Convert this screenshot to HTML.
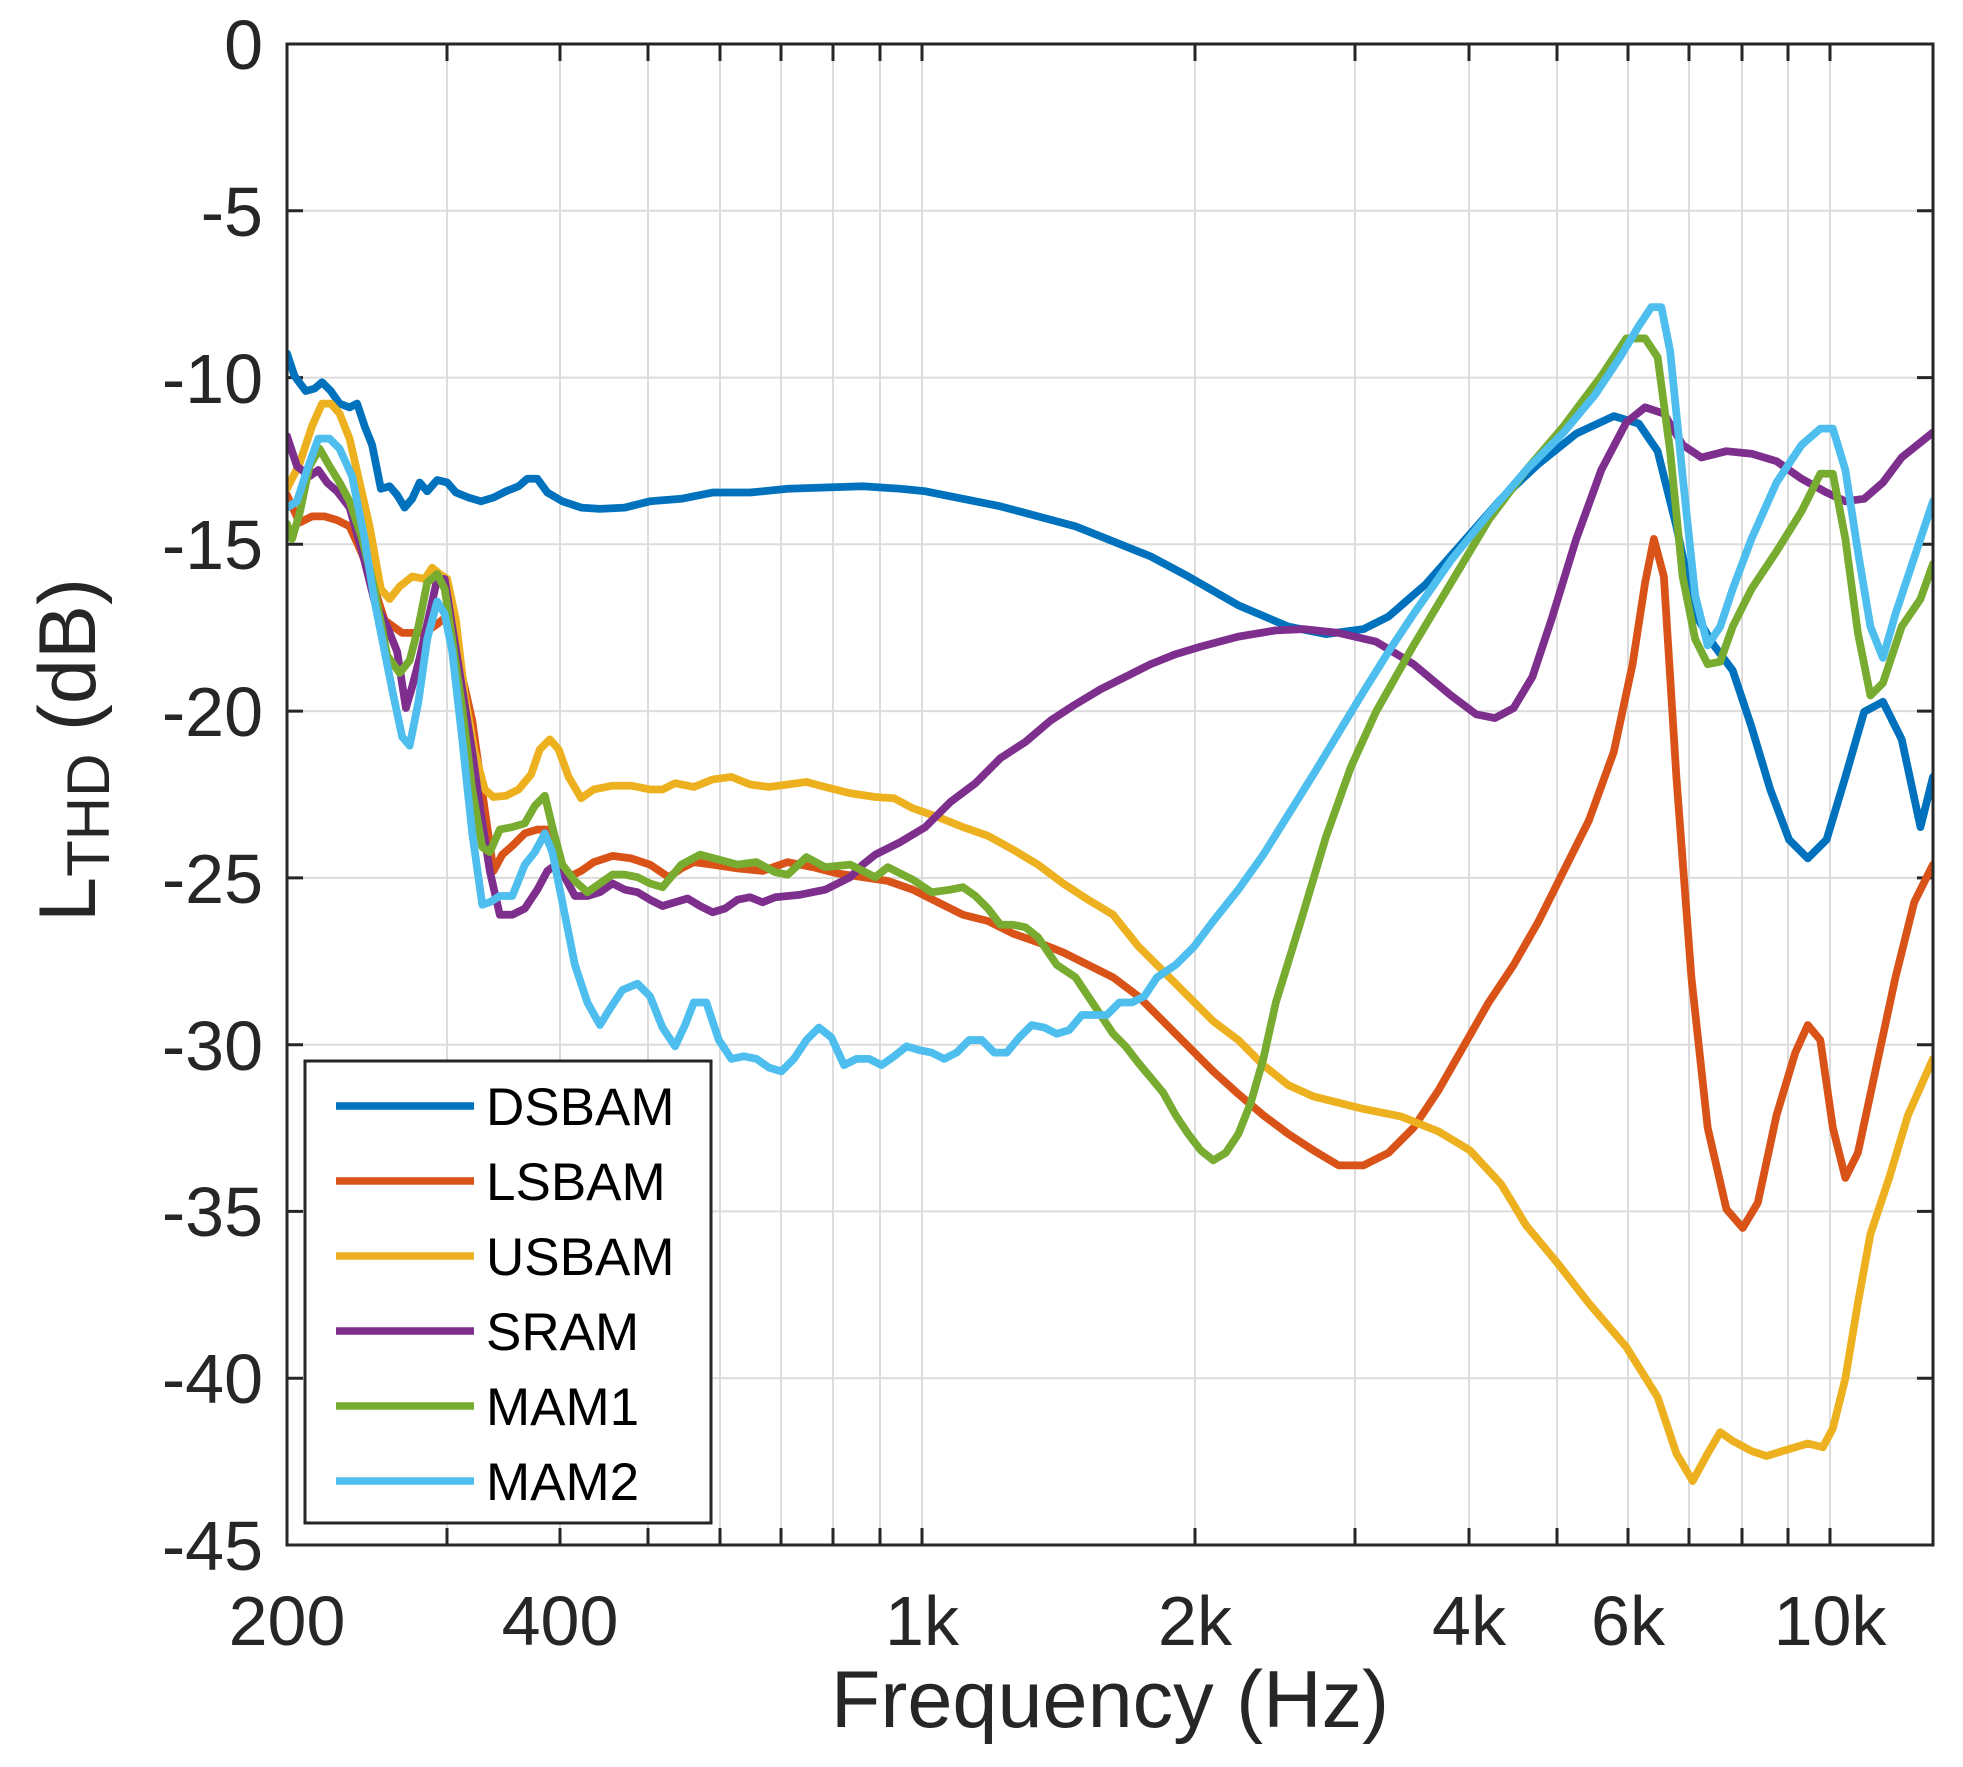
<!DOCTYPE html>
<html><head><meta charset="utf-8"><style>
html,body{margin:0;padding:0;background:#fff;}
svg{display:block;font-family:"Liberation Sans",Arial,sans-serif;}
</style></head><body>
<svg width="1963" height="1767" viewBox="0 0 1963 1767" xmlns="http://www.w3.org/2000/svg">
<rect width="1963" height="1767" fill="#fff"/>
<defs><clipPath id="c"><rect x="287" y="44" width="1646" height="1501"/></clipPath></defs>
<g stroke="#dcdcdc" stroke-width="2">
<line x1="287" x2="1933" y1="210.8" y2="210.8"/><line x1="287" x2="1933" y1="377.6" y2="377.6"/>
<line x1="287" x2="1933" y1="544.3" y2="544.3"/><line x1="287" x2="1933" y1="711.1" y2="711.1"/>
<line x1="287" x2="1933" y1="877.9" y2="877.9"/><line x1="287" x2="1933" y1="1044.7" y2="1044.7"/>
<line x1="287" x2="1933" y1="1211.4" y2="1211.4"/><line x1="287" x2="1933" y1="1378.2" y2="1378.2"/>
<line x1="447" x2="447" y1="44" y2="1545"/><line x1="560" x2="560" y1="44" y2="1545"/>
<line x1="648" x2="648" y1="44" y2="1545"/><line x1="720" x2="720" y1="44" y2="1545"/>
<line x1="781" x2="781" y1="44" y2="1545"/><line x1="833" x2="833" y1="44" y2="1545"/>
<line x1="880" x2="880" y1="44" y2="1545"/><line x1="922" x2="922" y1="44" y2="1545"/>
<line x1="1195" x2="1195" y1="44" y2="1545"/><line x1="1355" x2="1355" y1="44" y2="1545"/>
<line x1="1469" x2="1469" y1="44" y2="1545"/><line x1="1557" x2="1557" y1="44" y2="1545"/>
<line x1="1628" x2="1628" y1="44" y2="1545"/><line x1="1689" x2="1689" y1="44" y2="1545"/>
<line x1="1742" x2="1742" y1="44" y2="1545"/><line x1="1788" x2="1788" y1="44" y2="1545"/>
<line x1="1830" x2="1830" y1="44" y2="1545"/>
</g>
<g stroke="#262626" stroke-width="3">
<path d="M287 210.8h16M287 377.6h16M287 544.3h16M287 711.1h16M287 877.9h16M287 1044.7h16M287 1211.4h16M287 1378.2h16"/>
<path d="M1933 210.8h-16M1933 377.6h-16M1933 544.3h-16M1933 711.1h-16M1933 877.9h-16M1933 1044.7h-16M1933 1211.4h-16M1933 1378.2h-16"/>
<path d="M447 1545v-17M560 1545v-17M648 1545v-17M720 1545v-17M781 1545v-17M833 1545v-17M880 1545v-17M922 1545v-17M1195 1545v-17M1355 1545v-17M1469 1545v-17M1557 1545v-17M1628 1545v-17M1689 1545v-17M1742 1545v-17M1788 1545v-17M1830 1545v-17"/>
<path d="M447 44v17M560 44v17M648 44v17M720 44v17M781 44v17M833 44v17M880 44v17M922 44v17M1195 44v17M1355 44v17M1469 44v17M1557 44v17M1628 44v17M1689 44v17M1742 44v17M1788 44v17M1830 44v17"/>
</g>
<g clip-path="url(#c)">
<g transform="translate(287,44) scale(1.2517,1.2529) translate(-230,-35)" fill="none" stroke-width="6.2" stroke-linejoin="round" stroke-linecap="round">
<polyline stroke="#0072BD" points="230,282 236,300 245,312 252,310 258,305 265,312 272,322 280,325 286,322 292,340 298,355 305,390 312,388 318,395 324,405 330,398 336,385 342,392 350,383 358,385 365,393 375,397 385,400 395,397 405,392 415,388 422,382 430,382 438,393 450,400 465,405 480,406 500,405 520,400 545,398 570,393 600,393 630,390 660,389 690,388 720,390 740,392 760,396 780,400 800,404 830,412 860,420 890,432 920,444 950,460 990,483 1030,500 1060,506 1090,502 1110,492 1140,466 1170,432 1200,398 1230,370 1260,346 1290,332 1310,338 1325,360 1340,420 1355,490 1370,515 1385,535 1400,580 1415,630 1430,670 1445,685 1460,670 1475,620 1490,568 1505,560 1520,590 1535,660 1545,620"/>
<polyline stroke="#D95319" points="230,395 240,417 250,412 260,412 270,415 280,420 290,442 300,470 308,495 315,500 322,505 330,505 340,505 350,498 356,493 362,505 370,540 378,575 385,625 390,660 395,695 402,682 410,675 420,665 430,662 438,662 445,680 455,700 465,695 475,688 490,683 505,685 520,690 535,700 545,693 555,688 570,690 590,693 610,695 630,688 650,692 670,697 690,700 710,703 730,710 750,720 770,730 790,735 810,745 830,752 850,760 870,770 890,780 910,795 930,815 950,835 970,855 990,873 1010,890 1030,905 1050,918 1070,930 1090,930 1110,920 1130,900 1150,870 1170,835 1190,800 1210,770 1230,735 1250,695 1270,655 1290,600 1305,530 1315,465 1322,430 1330,460 1340,620 1352,780 1365,900 1380,965 1393,980 1405,960 1420,890 1435,840 1445,818 1455,830 1465,900 1475,940 1485,920 1500,850 1515,780 1530,720 1545,690"/>
<polyline stroke="#EDB120" points="230,390 240,370 250,340 258,322 265,322 272,330 280,350 288,385 296,420 305,470 312,478 320,468 330,460 340,462 346,453 352,458 358,462 365,495 372,555 380,600 388,630 395,636 405,635 415,630 425,618 432,598 440,590 447,598 455,620 465,637 475,630 490,627 505,627 520,630 530,630 540,625 555,628 570,622 585,620 600,626 615,628 630,626 645,624 660,628 680,633 700,636 715,637 730,645 750,652 770,660 790,667 810,678 830,690 850,705 870,718 890,730 910,755 930,775 950,795 970,815 990,830 1010,850 1030,866 1050,875 1070,880 1090,885 1120,891 1150,903 1175,918 1200,945 1220,978 1245,1008 1270,1040 1300,1075 1325,1115 1340,1160 1353,1182 1365,1160 1375,1143 1385,1150 1400,1158 1412,1162 1425,1158 1445,1152 1457,1155 1465,1140 1475,1100 1485,1040 1495,985 1510,940 1525,890 1545,845"/>
<polyline stroke="#7E2F8E" points="230,348 238,372 248,380 255,375 262,385 270,392 280,405 290,440 300,480 310,500 318,520 325,565 330,548 336,525 342,498 350,462 356,462 362,500 370,550 378,600 385,650 392,695 400,730 410,730 420,725 430,710 438,695 445,690 452,700 460,715 470,715 480,712 490,705 500,710 510,712 520,718 530,723 540,720 550,717 560,723 570,728 580,725 590,718 600,716 610,720 620,716 630,715 640,714 650,712 660,710 670,705 680,700 690,690 700,682 720,672 740,660 760,640 780,625 800,605 820,592 840,575 860,562 880,550 900,540 920,530 940,522 960,516 990,508 1020,503 1042,502 1070,505 1100,512 1130,530 1160,555 1180,570 1195,573 1210,565 1225,540 1240,495 1260,430 1280,375 1300,337 1315,325 1330,330 1345,355 1360,365 1380,360 1400,362 1420,368 1440,382 1460,393 1475,400 1490,398 1505,385 1520,365 1545,345"/>
<polyline stroke="#77AC30" points="230,418 234,430 240,410 248,372 256,358 264,372 272,385 280,400 290,430 300,470 310,523 320,537 328,527 335,500 342,465 350,458 356,470 362,510 370,565 378,630 386,676 392,680 400,662 410,660 420,657 428,643 436,635 442,660 450,690 460,703 470,712 480,705 490,698 500,698 510,700 520,705 530,708 545,690 560,682 575,686 590,690 605,688 620,696 630,698 645,684 660,692 680,690 700,700 710,692 720,697 730,702 745,712 760,710 770,708 780,715 790,725 800,738 810,738 820,740 830,748 845,770 860,780 870,795 880,810 890,825 900,835 910,848 920,860 930,872 940,890 950,905 960,918 970,926 980,920 990,905 1000,880 1010,845 1020,800 1040,735 1060,668 1080,612 1100,568 1130,515 1160,465 1190,415 1220,375 1250,340 1280,300 1300,270 1315,270 1325,285 1335,360 1345,460 1355,510 1365,530 1375,528 1385,500 1400,470 1420,440 1440,408 1455,378 1465,378 1475,430 1485,505 1495,555 1505,545 1520,500 1535,478 1545,450"/>
<polyline stroke="#4DBEEE" points="230,405 238,400 246,375 255,350 264,350 272,358 282,380 292,430 300,480 308,520 315,555 322,588 328,595 335,560 342,510 350,480 356,490 362,520 370,590 378,665 386,722 392,720 400,715 410,715 420,690 428,680 436,665 442,680 450,720 460,770 470,800 480,818 488,805 498,790 510,785 520,795 530,820 540,835 548,818 555,800 565,800 575,830 585,845 595,843 605,845 615,852 625,855 635,845 645,830 655,820 665,828 675,850 685,845 695,845 705,850 715,843 725,835 735,838 745,840 755,845 765,840 775,830 785,830 795,840 805,840 815,828 825,818 835,820 845,825 855,822 865,810 875,810 885,810 895,800 905,800 915,795 925,780 940,770 955,755 970,735 990,710 1010,682 1030,650 1050,618 1070,585 1090,552 1110,520 1130,490 1160,447 1190,410 1220,375 1250,345 1275,315 1295,285 1310,260 1320,245 1328,245 1335,280 1345,380 1355,475 1365,515 1375,500 1385,470 1400,430 1420,385 1440,355 1455,342 1465,342 1475,375 1485,440 1495,500 1505,525 1515,490 1530,445 1545,400"/>
</g>
</g>
<rect x="287" y="44" width="1646" height="1501" fill="none" stroke="#262626" stroke-width="3"/>
<rect x="305" y="1061" width="406" height="462" fill="#fff" stroke="#262626" stroke-width="3"/>
<g stroke-width="7.5">
<line x1="336" x2="474" y1="1106" y2="1106" stroke="#0072BD"/>
<line x1="336" x2="474" y1="1181" y2="1181" stroke="#D95319"/>
<line x1="336" x2="474" y1="1256" y2="1256" stroke="#EDB120"/>
<line x1="336" x2="474" y1="1331" y2="1331" stroke="#7E2F8E"/>
<line x1="336" x2="474" y1="1406" y2="1406" stroke="#77AC30"/>
<line x1="336" x2="474" y1="1481" y2="1481" stroke="#4DBEEE"/>
</g>
<g font-size="53" fill="#000">
<text x="486" y="1125">DSBAM</text><text x="486" y="1200">LSBAM</text>
<text x="486" y="1275">USBAM</text><text x="486" y="1350">SRAM</text>
<text x="486" y="1425">MAM1</text><text x="486" y="1500">MAM2</text>
</g>
<g font-size="70" fill="#262626" text-anchor="end">
<text x="263" y="69">0</text><text x="263" y="236">-5</text><text x="263" y="403">-10</text>
<text x="263" y="569">-15</text><text x="263" y="736">-20</text><text x="263" y="903">-25</text>
<text x="263" y="1070">-30</text><text x="263" y="1236">-35</text><text x="263" y="1403">-40</text>
<text x="263" y="1570">-45</text>
</g>
<g font-size="70" fill="#262626" text-anchor="middle">
<text x="287" y="1645">200</text><text x="560" y="1645">400</text><text x="922" y="1645">1k</text>
<text x="1195" y="1645">2k</text><text x="1469" y="1645">4k</text><text x="1628" y="1645">6k</text>
<text x="1830" y="1645">10k</text>
<text x="1110" y="1727" font-size="81">Frequency (Hz)</text>
</g>
<text transform="translate(95,750) rotate(-90)" font-size="81" fill="#262626" text-anchor="middle">L<tspan font-size="60" dy="14">THD</tspan><tspan dy="-14"> (dB)</tspan></text>
</svg>
</body></html>
